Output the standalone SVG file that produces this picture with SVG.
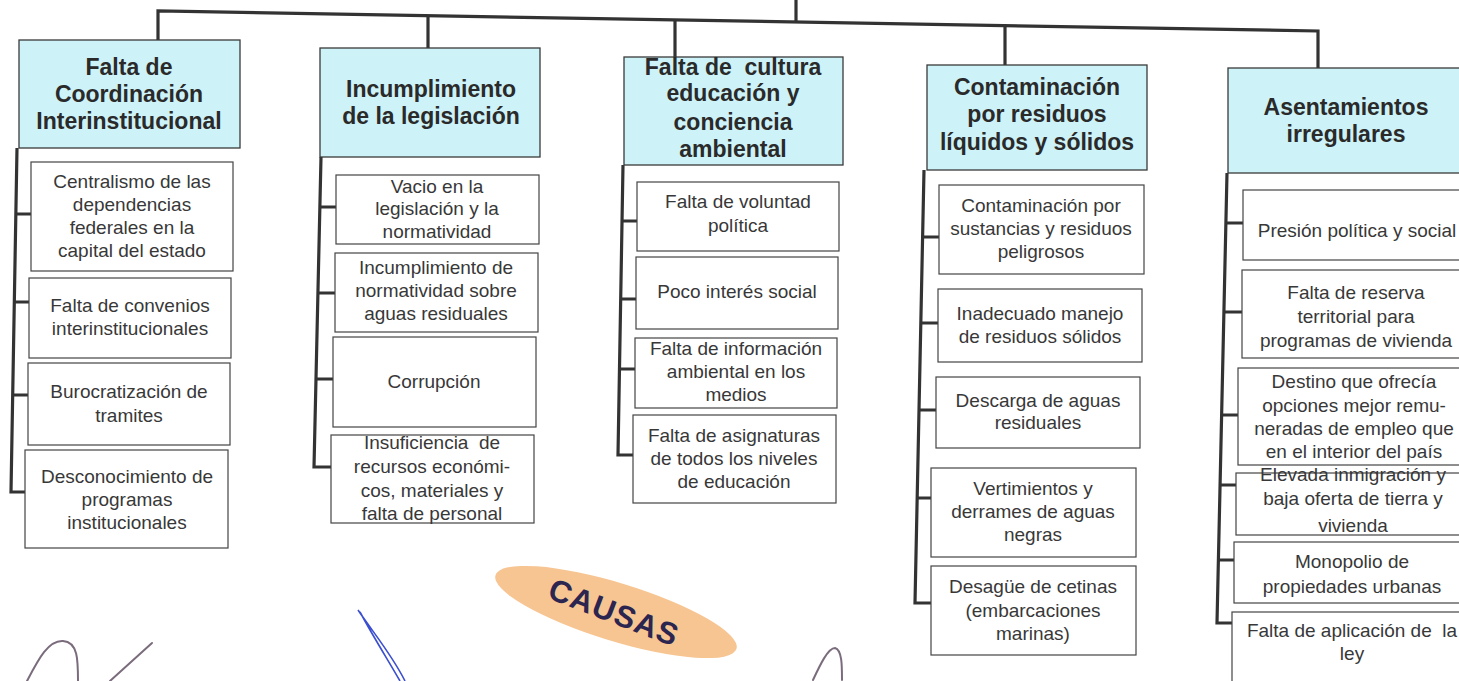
<svg xmlns="http://www.w3.org/2000/svg" width="1459" height="681" viewBox="0 0 1459 681">
<style>
.hd{fill:#cdf2f8;stroke:#3a3a3a;stroke-width:1.3}
.bx{fill:#ffffff;stroke:#444;stroke-width:1.2}
.ht{font-family:"Liberation Sans",Arial,sans-serif;font-weight:bold;font-size:23px;fill:#2a2a2a;text-anchor:middle}
.ct{font-family:"Liberation Sans",Arial,sans-serif;font-size:19px;fill:#383838;text-anchor:middle}
.ln{fill:none;stroke:#333;stroke-width:3.2;stroke-linejoin:miter}
.sg{fill:none;stroke:#7a6c7c;stroke-width:2;stroke-linecap:round}
</style>
<rect width="1459" height="681" fill="#ffffff"/>
<g id="connectors">
<path class="ln" d="M158,44 L158,11 L1318,31 L1318,69"/>
<path class="ln" d="M796,0 L796,22"/>
<path class="ln" d="M428,15 L428,49"/>
<path class="ln" d="M675,19 L675,57"/>
<path class="ln" d="M1005,26 L1005,65"/>
<path class="ln" d="M17,148 L11,492 L26,492 M15,214 L31,214 M14,302 L30,302 M13,395 L28,395"/>
<path class="ln" d="M321,157 L314,467 L331,467 M320,207 L336,207 M318,293 L335,293 M316,379 L333,379"/>
<path class="ln" d="M623,165 L618,455 L633,455 M622,221 L637,221 M621,299 L636,299 M620,369 L635,369"/>
<path class="ln" d="M924,170 L915,603 L931,603 M922,237 L939,237 M921,323 L938,323 M919,410 L936,410 M917,498 L931,498"/>
<path class="ln" d="M1227,173 L1217,623 L1232,623 M1226,223 L1243,223 M1224,312 L1242,312 M1222,415 L1238,415 M1221,485 L1236,485 M1219,560 L1234,560"/>
</g>
<g id="h1"><rect class="hd" x="19" y="40" width="221" height="108"/>
<text class="ht" x="129" y="75">Falta de</text><text class="ht" x="129" y="102">Coordinación</text><text class="ht" x="129" y="129">Interinstitucional</text></g>
<g id="h2"><rect class="hd" x="320" y="48" width="220" height="109"/>
<text class="ht" x="431" y="97">Incumplimiento</text><text class="ht" x="431" y="124">de la legislación</text></g>
<g id="h3"><rect class="hd" x="624" y="57" width="219" height="108"/>
<text class="ht" x="733" y="75" xml:space="preserve">Falta de  cultura</text><text class="ht" x="733" y="101">educación y</text><text class="ht" x="733" y="130">conciencia</text><text class="ht" x="733" y="157">ambiental</text></g>
<g id="h4"><rect class="hd" x="927" y="65" width="220" height="105"/>
<text class="ht" x="1037" y="95">Contaminación</text><text class="ht" x="1037" y="122">por residuos</text><text class="ht" x="1037" y="150">líquidos y sólidos</text></g>
<g id="h5"><rect class="hd" x="1228" y="68" width="242" height="105"/>
<text class="ht" x="1346" y="115">Asentamientos</text><text class="ht" x="1346" y="142">irregulares</text></g>

<g id="c1a"><rect class="bx" x="31" y="162" width="202" height="109"/>
<text class="ct" x="132" y="188">Centralismo de las</text><text class="ct" x="132" y="211">dependencias</text><text class="ct" x="132" y="234">federales en la</text><text class="ct" x="132" y="257">capital del estado</text></g>
<g id="c1b"><rect class="bx" x="29" y="278" width="202" height="80"/>
<text class="ct" x="130" y="312">Falta de convenios</text><text class="ct" x="130" y="335">interinstitucionales</text></g>
<g id="c1c"><rect class="bx" x="28" y="363" width="202" height="82"/>
<text class="ct" x="129" y="398">Burocratización de</text><text class="ct" x="129" y="422">tramites</text></g>
<g id="c1d"><rect class="bx" x="25" y="450" width="203" height="98"/>
<text class="ct" x="127" y="483">Desconocimiento de</text><text class="ct" x="127" y="506">programas</text><text class="ct" x="127" y="529">institucionales</text></g>

<g id="c2a"><rect class="bx" x="336" y="175" width="203" height="69"/>
<text class="ct" x="437" y="193">Vacio en la</text><text class="ct" x="437" y="215">legislación y la</text><text class="ct" x="437" y="238">normatividad</text></g>
<g id="c2b"><rect class="bx" x="335" y="253" width="203" height="79"/>
<text class="ct" x="436" y="274">Incumplimiento de</text><text class="ct" x="436" y="297">normatividad sobre</text><text class="ct" x="436" y="320">aguas residuales</text></g>
<g id="c2c"><rect class="bx" x="333" y="337" width="203" height="90"/>
<text class="ct" x="434" y="388">Corrupción</text></g>
<g id="c2d"><rect class="bx" x="331" y="435" width="203" height="88"/>
<text class="ct" x="432" y="449" xml:space="preserve">Insuficiencia  de</text><text class="ct" x="432" y="473">recursos económi-</text><text class="ct" x="432" y="497">cos, materiales y</text><text class="ct" x="432" y="520">falta de personal</text></g>

<g id="c3a"><rect class="bx" x="637" y="182" width="202" height="69"/>
<text class="ct" x="738" y="208">Falta de voluntad</text><text class="ct" x="738" y="232">política</text></g>
<g id="c3b"><rect class="bx" x="636" y="257" width="202" height="72"/>
<text class="ct" x="737" y="298">Poco interés social</text></g>
<g id="c3c"><rect class="bx" x="635" y="338" width="202" height="70"/>
<text class="ct" x="736" y="355">Falta de información</text><text class="ct" x="736" y="378">ambiental en los</text><text class="ct" x="736" y="401">medios</text></g>
<g id="c3d"><rect class="bx" x="633" y="415" width="203" height="88"/>
<text class="ct" x="734" y="442">Falta de asignaturas</text><text class="ct" x="734" y="465">de todos los niveles</text><text class="ct" x="734" y="488">de educación</text></g>

<g id="c4a"><rect class="bx" x="939" y="185" width="205" height="89"/>
<text class="ct" x="1041" y="212">Contaminación por</text><text class="ct" x="1041" y="235">sustancias y residuos</text><text class="ct" x="1041" y="258">peligrosos</text></g>
<g id="c4b"><rect class="bx" x="938" y="289" width="204" height="73"/>
<text class="ct" x="1040" y="320">Inadecuado manejo</text><text class="ct" x="1040" y="343">de residuos sólidos</text></g>
<g id="c4c"><rect class="bx" x="936" y="377" width="204" height="71"/>
<text class="ct" x="1038" y="407">Descarga de aguas</text><text class="ct" x="1038" y="429">residuales</text></g>
<g id="c4d"><rect class="bx" x="931" y="468" width="205" height="89"/>
<text class="ct" x="1033" y="495">Vertimientos y</text><text class="ct" x="1033" y="518">derrames de aguas</text><text class="ct" x="1033" y="541">negras</text></g>
<g id="c4e"><rect class="bx" x="931" y="566" width="205" height="89"/>
<text class="ct" x="1033" y="593">Desagüe de cetinas</text><text class="ct" x="1033" y="617">(embarcaciones</text><text class="ct" x="1033" y="640">marinas)</text></g>

<g id="c5a"><rect class="bx" x="1243" y="190" width="227" height="70"/>
<text class="ct" x="1357" y="237">Presión política y social</text></g>
<g id="c5b"><rect class="bx" x="1242" y="270" width="228" height="88"/>
<text class="ct" x="1356" y="299">Falta de reserva</text><text class="ct" x="1356" y="323">territorial para</text><text class="ct" x="1356" y="347">programas de vivienda</text></g>
<g id="c5c"><rect class="bx" x="1238" y="368" width="232" height="97"/>
<text class="ct" x="1354" y="388">Destino que ofrecía</text><text class="ct" x="1354" y="412">opciones mejor remu-</text><text class="ct" x="1354" y="435">neradas de empleo que</text><text class="ct" x="1354" y="458">en el interior del país</text></g>
<g id="c5d"><rect class="bx" x="1236" y="473" width="234" height="62"/>
<text class="ct" x="1353" y="481">Elevada inmigración y</text><text class="ct" x="1353" y="505">baja oferta de tierra y</text><text class="ct" x="1353" y="532">vivienda</text></g>
<g id="c5e"><rect class="bx" x="1234" y="542" width="236" height="61"/>
<text class="ct" x="1352" y="568">Monopolio de</text><text class="ct" x="1352" y="593">propiedades urbanas</text></g>
<g id="c5f"><rect class="bx" x="1232" y="612" width="238" height="70"/>
<text class="ct" x="1352" y="637" xml:space="preserve">Falta de aplicación de  la</text><text class="ct" x="1352" y="660">ley</text></g>

<g id="causas">
<ellipse cx="616" cy="612" rx="126" ry="29" transform="rotate(17 616 612)" fill="#f7c592"/>
<text x="614" y="623" transform="rotate(21 614 612)" font-family="'Liberation Sans',Arial,sans-serif" font-weight="bold" font-size="31" letter-spacing="1" fill="#2b2550" text-anchor="middle">CAUSAS</text>
</g>
<g id="signatures">
<path class="sg" d="M27,681 C38,660 48,640 63,641 C78,642 78,660 78,681"/>
<path class="sg" d="M110,681 L152,643"/>
<path d="M358,610 C375,635 392,655 405,681 M360,612 C374,638 388,660 400,681" fill="none" stroke="#3b4fd0" stroke-width="1.6"/>
<path class="sg" d="M813,680 C820,665 828,648 835,648 C842,650 842,665 842,680"/>
</g>
</svg>
